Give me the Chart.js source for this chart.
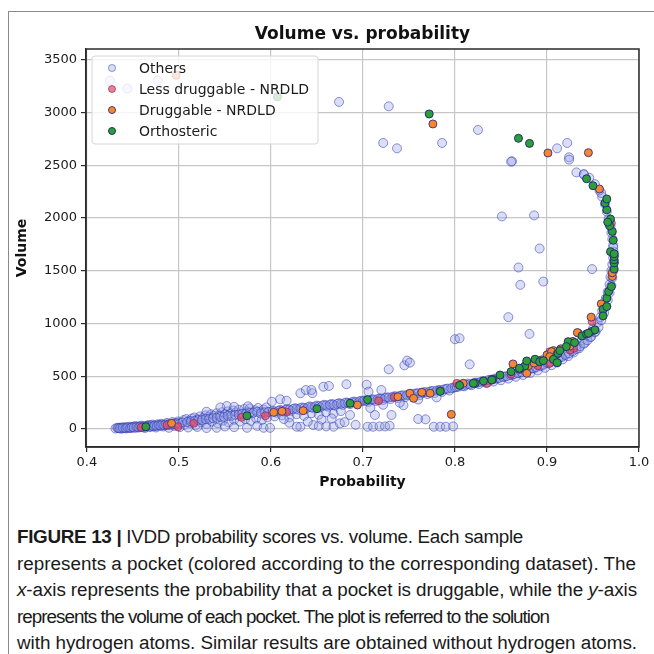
<!DOCTYPE html>
<html>
<head>
<meta charset="utf-8">
<script src="https://cdn.jsdelivr.net/npm/chart.js@4.4.0/dist/chart.umd.min.js"></script>
<style>
  body { margin: 0; background: #fff; width: 654px; height: 654px; overflow: hidden; position: relative; }
  #frame { position: absolute; left: 8px; top: 11px; width: 700px; height: 700px; border: 1px solid #8a8a8a; }
  #wrap { position: absolute; left: 0; top: 0; width: 654px; height: 500px; }
  #caption { position: absolute; left: 17px; top: 524px; font-family: "Liberation Sans", Arial, sans-serif; font-size: 18px; color: #1a1a1a; }
  .line { white-space: nowrap; height: 26.5px; line-height: 26.5px; }
  .line span.t { display: inline-block; transform-origin: 0 50%; }
</style>
</head>
<body>
<div id="frame"></div>
<div id="wrap"><canvas id="chart" width="654" height="500"></canvas></div>
<div id="caption">
  <div class="line"><span class="t"><b>FIGURE 13 |</b> IVDD probability scores vs. volume. Each sample</span></div>
  <div class="line"><span class="t">represents a pocket (colored according to the corresponding dataset). The</span></div>
  <div class="line"><span class="t"><i>x</i>-axis represents the probability that a pocket is druggable, while the <i>y</i>-axis</span></div>
  <div class="line"><span class="t">represents the volume of each pocket. The plot is referred to the solution</span></div>
  <div class="line"><span class="t">with hydrogen atoms. Similar results are obtained without hydrogen atoms.</span></div>
</div>
<script>
// tick labels
const xTicks = [0.4, 0.5, 0.6, 0.7, 0.8, 0.9, 1.0];
const yTicks = [0, 500, 1000, 1500, 2000, 2500, 3000, 3500];

// [probability, volume]
const others = [
  [0.431,5],[0.433,12],[0.435,8],[0.437,15],[0.438,4],[0.440,10],[0.441,18],[0.443,6],[0.445,14],[0.446,22],
  [0.448,9],[0.450,20],[0.452,28],[0.453,12],[0.455,25],[0.457,17],[0.459,32],[0.461,22],[0.463,10],[0.465,30],
  [0.467,38],[0.469,20],[0.471,42],[0.473,28],[0.475,15],[0.477,45],[0.479,34],[0.481,50],[0.483,24],[0.485,40],
  [0.487,58],[0.489,12],[0.491,46],[0.493,66],[0.495,30],[0.497,54],[0.499,72],[0.501,18],[0.503,60],
  [0.434,10],[0.436,6],[0.439,13],[0.442,8],[0.444,17],[0.447,11],[0.449,19],[0.451,14],[0.454,21],[0.456,15],
  [0.458,25],[0.460,18],[0.462,27],[0.464,21],[0.466,29],[0.468,23],[0.470,33],[0.472,26],[0.474,35],[0.476,29],
  [0.478,39],[0.480,31],[0.482,41],[0.484,36],[0.486,45],[0.488,37],[0.490,49],[0.492,41],[0.494,53],[0.496,45],
  [0.498,57],[0.500,49],
  [0.505,85],[0.508,95],[0.511,78],[0.514,100],[0.517,110],[0.520,92],[0.523,120],[0.526,105],[0.529,130],[0.532,115],
  [0.535,140],[0.538,125],[0.541,150],[0.544,132],[0.547,160],[0.550,142],[0.553,168],[0.556,150],[0.559,175],[0.562,158],
  [0.565,182],[0.568,140],[0.571,190],[0.574,165],[0.577,195],[0.580,150],[0.583,178],[0.586,200],[0.589,165],[0.592,185],
  [0.595,205],[0.598,160],[0.530,164],[0.552,218],[0.545,205],[0.560,210],[0.575,215],
  [0.506,40],[0.512,55],[0.518,35],[0.524,62],[0.530,48],[0.536,70],[0.542,55],[0.548,80],[0.554,62],[0.560,88],
  [0.566,70],[0.572,95],[0.578,78],[0.584,100],[0.590,85],[0.596,110],
  [0.510,15],[0.520,20],[0.530,10],[0.541,12],[0.550,25],[0.560,18],[0.574,12],[0.585,30],[0.592,12],[0.599,12],
  [0.504,63],[0.509,66],[0.513,74],[0.517,77],[0.521,84],[0.525,86],[0.529,95],[0.533,97],[0.537,104],[0.541,106],
  [0.545,115],[0.549,116],[0.553,125],[0.557,126],[0.561,135],[0.565,136],[0.569,145],[0.573,146],[0.577,155],[0.581,156],
  [0.585,163],[0.589,148],[0.593,158],[0.597,164],
  [0.602,170],[0.606,155],[0.610,180],[0.614,165],[0.618,190],[0.622,172],[0.626,198],[0.630,182],[0.634,205],[0.638,190],
  [0.642,215],[0.646,198],[0.650,222],[0.654,205],[0.658,230],[0.662,212],[0.666,238],[0.670,220],[0.674,246],[0.678,228],
  [0.682,252],[0.686,236],[0.690,260],[0.694,244],[0.698,268],
  [0.604,120],[0.612,130],[0.620,110],[0.628,140],[0.636,125],[0.644,150],[0.652,135],[0.660,160],[0.668,145],[0.676,170],
  [0.601,259],[0.610,282],[0.617,268],[0.632,339],[0.638,370],[0.645,340],[0.657,401],[0.663,408],[0.644,370],[0.682,424],
  [0.704,420],[0.706,354],
  [0.632,22],[0.628,22],[0.646,38],[0.652,30],[0.660,25],[0.668,22],[0.675,54],[0.686,133],[0.640,70],[0.655,90],
  [0.666,100],[0.680,65],[0.692,40],[0.620,60],[0.614,95],
  [0.604,167],[0.608,174],[0.612,175],[0.616,182],[0.620,183],[0.624,190],[0.628,191],[0.632,198],[0.636,199],[0.640,206],
  [0.644,207],[0.648,214],[0.652,215],[0.656,222],[0.660,223],[0.664,230],[0.668,231],[0.672,238],[0.676,239],[0.680,246],
  [0.684,247],[0.688,254],[0.692,255],[0.696,262],[0.700,263],
  [0.702,272],[0.706,258],[0.710,282],[0.714,266],[0.718,290],[0.722,275],[0.726,300],[0.730,284],[0.734,310],[0.738,294],
  [0.742,318],[0.746,302],[0.750,328],[0.754,312],[0.758,338],[0.762,322],[0.766,348],[0.770,332],[0.774,358],[0.778,342],
  [0.782,368],[0.786,352],[0.790,380],[0.794,365],[0.798,392],
  [0.704,269],[0.708,273],[0.712,279],[0.716,283],[0.720,289],[0.724,293],[0.728,299],[0.732,303],[0.736,309],[0.740,313],
  [0.744,319],[0.748,323],[0.752,329],[0.756,333],[0.760,339],[0.764,343],[0.768,349],[0.772,353],[0.776,361],[0.780,363],
  [0.784,371],[0.788,375],[0.792,383],[0.796,387],[0.800,395],
  [0.728,566],[0.745,604],[0.748,648],[0.751,629],[0.720,370],[0.713,133],[0.731,133],[0.744,225],[0.760,95],[0.768,92],
  [0.705,22],[0.711,22],[0.718,25],[0.724,25],[0.729,31],[0.777,22],[0.784,22],[0.790,22],[0.798,25],[0.708,200],
  [0.722,230],[0.740,250],[0.760,280],[0.780,300],
  [0.802,398],[0.806,420],[0.810,405],[0.814,430],[0.818,415],[0.822,440],[0.826,425],[0.830,452],[0.834,436],[0.838,465],
  [0.842,450],[0.846,478],[0.850,462],[0.854,495],[0.858,478],[0.862,512],[0.866,495],[0.870,530],[0.874,512],[0.878,552],
  [0.882,532],[0.886,575],[0.890,555],[0.894,600],[0.898,580],
  [0.804,403],[0.808,409],[0.812,419],[0.816,423],[0.820,433],[0.824,439],[0.828,447],[0.832,453],[0.836,463],[0.840,469],
  [0.844,479],[0.848,485],[0.852,495],[0.856,501],[0.860,513],[0.864,519],[0.868,531],[0.872,539],[0.876,551],[0.880,561],
  [0.884,575],[0.888,585],[0.892,599],[0.896,609],[0.900,625],
  [0.800,851],[0.805,860],[0.816,613],[0.881,901],[0.862,2536],[0.851,2014],[0.886,2024],[0.892,1710],[0.869,1530],[0.871,1366],
  [0.896,1397],[0.858,1060],[0.825,2833],[0.861,2533],
  [0.902,625],[0.905,605],[0.908,650],[0.911,630],[0.914,680],[0.917,660],[0.920,710],[0.923,690],[0.926,745],[0.929,725],
  [0.932,790],[0.935,765],[0.938,840],[0.941,815],[0.944,890],[0.947,870],[0.950,950],[0.953,925],[0.955,1010],[0.958,1060],
  [0.960,1120],[0.962,1180],[0.964,1240],[0.966,1300],[0.968,1370],[0.969,1440],[0.970,1500],[0.971,1560],[0.972,1620],[0.9725,1680],
  [0.972,1740],[0.971,1800],[0.970,1860],[0.969,1920],[0.967,1990],[0.965,2060],[0.963,2130],[0.960,2200],[0.957,2260],[0.952,2320],
  [0.946,2380],[0.940,2409],[0.932,2431],[0.940,2416],
  [0.904,639],[0.908,651],[0.912,669],[0.916,683],[0.920,701],[0.924,717],[0.928,739],[0.932,759],[0.936,785],[0.940,809],
  [0.944,841],[0.948,874],[0.952,916],[0.956,964],[0.959,1031],[0.962,1099],[0.964,1161],[0.966,1219],[0.968,1291],[0.970,1359],
  [0.971,1431],[0.972,1499],[0.973,1581],[0.973,1649],[0.972,1721],
  [0.911,2659],[0.922,2710],[0.924,2574],[0.924,2552],[0.949,1515],[0.959,2236],
  [0.728,3057],[0.722,2710],[0.737,2659],[0.786,2710],[0.674,3099],[0.425,3301],[0.444,3225],[0.477,3301]
];

const lessDruggable = [
  [0.459,16],[0.487,38],[0.499,22],[0.516,54],[0.568,111],[0.594,126],[0.617,161],[0.717,268],[0.734,301],[0.784,363],
  [0.802,433],[0.835,433],[0.903,623],[0.903,733],[0.929,765],[0.925,749],[0.949,1018],[0.970,1951],[0.861,520],[0.890,600]
];

const druggable = [
  [0.492,54],[0.497,3351],[0.603,158],[0.612,168],[0.635,174],[0.694,228],[0.738,306],[0.751,339],[0.755,291],[0.764,348],
  [0.773,339],[0.796,139],[0.809,433],[0.776,2890],[0.878,528],[0.863,617],[0.894,655],[0.900,702],[0.907,743],[0.905,733],
  [0.925,787],[0.934,908],[0.933,914],[0.948,1060],[0.959,1186],[0.971,1445],[0.971,1480],[0.957,2274],[0.901,2615],[0.945,2618],
  [0.880,600],[0.886,625],[0.915,760],[0.928,830],[0.903,686],[0.911,711]
];

const orthosteric = [
  [0.464,22],[0.574,126],[0.650,193],[0.686,244],[0.705,278],[0.784,357],[0.805,414],[0.822,433],[0.831,455],[0.841,471],
  [0.849,512],[0.861,544],[0.870,566],[0.876,598],[0.887,661],[0.892,638],[0.896,648],[0.907,661],[0.912,718],[0.911,629],
  [0.923,828],[0.921,781],[0.930,819],[0.938,882],[0.943,901],[0.948,923],[0.952,939],[0.961,1135],[0.961,1072],[0.965,1240],
  [0.965,1160],[0.967,1302],[0.970,1350],[0.973,1515],[0.973,1574],[0.973,1603],[0.973,1634],[0.972,1788],[0.971,1872],[0.968,1926],
  [0.969,1989],[0.965,2077],[0.963,2141],[0.965,2179],[0.950,2305],[0.943,2371],[0.772,2985],[0.869,2754],[0.881,2706],[0.607,3147],
  [0.820,433],[0.840,465],[0.870,576],[0.878,645],[0.914,743],[0.945,908],[0.969,1680],[0.973,1660],[0.966,1960]
];

const toPts = arr => arr.map(([x, y]) => ({ x, y }));

// title, full box, legend inside the axes
const decor = {
  id: 'decor',
  afterDatasetsDraw(chart) {
    const { ctx, chartArea: a } = chart;
    ctx.save();
    ctx.strokeStyle = '#2b2b2b';
    ctx.lineWidth = 1.5;
    ctx.strokeRect(a.left, a.top, a.right - a.left, a.bottom - a.top);

    ctx.fillStyle = '#111';
    ctx.font = 'bold 17px "DejaVu Sans"';
    ctx.textAlign = 'center';
    ctx.textBaseline = 'middle';
    ctx.fillText('Volume vs. probability', (a.left + a.right) / 2, 35);

    const lx = a.left + 6, ly = a.top + 7, lw = 226, lh = 88;
    ctx.beginPath();
    ctx.roundRect(lx, ly, lw, lh, 3);
    ctx.fillStyle = 'rgba(255,255,255,0.8)';
    ctx.fill();
    ctx.strokeStyle = '#d6d6d6';
    ctx.lineWidth = 1;
    ctx.stroke();

    ctx.font = '14px "DejaVu Sans"';
    ctx.textAlign = 'left';
    chart.data.datasets.forEach((ds, i) => {
      const y = ly + 12 + i * 21;
      ctx.beginPath();
      ctx.arc(lx + 20, y, 3.5, 0, Math.PI * 2);
      ctx.fillStyle = ds.backgroundColor;
      ctx.fill();
      ctx.strokeStyle = ds.borderColor;
      ctx.lineWidth = 1;
      ctx.stroke();
      ctx.fillStyle = '#1a1a1a';
      ctx.fillText(ds.label, lx + 47, y + 1);
    });
    ctx.restore();
  }
};

const ctx = document.getElementById('chart');
new Chart(ctx, {
  type: 'scatter',
  data: {
    datasets: [
      { label: 'Others', data: toPts(others), backgroundColor: 'rgba(150,162,228,0.35)',
        borderColor: 'rgba(40,45,175,0.5)', borderWidth: 1, pointRadius: 4.5, order: 3 },
      { label: 'Less druggable - NRDLD', data: toPts(lessDruggable), backgroundColor: 'rgba(236,72,92,0.7)',
        borderColor: 'rgba(110,35,100,0.6)', borderWidth: 1, pointRadius: 4, order: 2 },
      { label: 'Druggable - NRDLD', data: toPts(druggable), backgroundColor: '#f7862c',
        borderColor: '#4a3a7a', borderWidth: 1, pointRadius: 4, order: 1 },
      { label: 'Orthosteric', data: toPts(orthosteric), backgroundColor: '#2e9e3b',
        borderColor: '#22306b', borderWidth: 1, pointRadius: 4, order: 0 }
    ]
  },
  options: {
    responsive: false,
    animation: false,
    events: [],
    layout: { padding: { left: 0, right: 15, top: 49, bottom: 0 } },
    plugins: { legend: { display: false }, tooltip: { enabled: false } },
    scales: {
      x: {
        type: 'linear', min: 0.399, max: 1.0,
        afterBuildTicks: s => { s.ticks = xTicks.map(v => ({ value: v })); },
        afterFit: s => { s.height = 53; },
        grid: { color: '#c6c6c6', lineWidth: 1.2, tickLength: 5, tickColor: '#2b2b2b' },
        border: { color: '#2b2b2b', width: 1.5 },
        ticks: { font: { family: 'DejaVu Sans', size: 13 }, color: '#1a1a1a', padding: 3, maxRotation: 0,
                 callback: v => v.toFixed(1) },
        title: { display: true, text: 'Probability', color: '#111',
                 font: { family: 'DejaVu Sans', size: 14, weight: 'bold' }, padding: { top: 0, bottom: 9 } }
      },
      y: {
        min: -170, max: 3600,
        afterBuildTicks: s => { s.ticks = yTicks.map(v => ({ value: v })); },
        afterFit: s => { s.width = 86; },
        grid: { color: '#c6c6c6', lineWidth: 1.2, tickLength: 5, tickColor: '#2b2b2b' },
        border: { color: '#2b2b2b', width: 1.5 },
        ticks: { font: { family: 'DejaVu Sans', size: 13 }, color: '#1a1a1a', padding: 4,
                 callback: v => String(v) },
        title: { display: true, text: 'Volume', color: '#111',
                 font: { family: 'DejaVu Sans', size: 14, weight: 'bold' }, padding: { top: 14, bottom: 0 } }
      }
    }
  },
  plugins: [decor]
});

// caption: one common horizontal squeeze, then letter spacing per line to hit the widths in the figure
const lineWidths = [506, 619, 620, 532, 620];
const spans = [...document.querySelectorAll('#caption .t')];
const natural = spans.map(el => el.getBoundingClientRect().width);
const squeeze = lineWidths[1] / natural[1];
spans.forEach((el, i) => {
  const chars = el.textContent.length;
  const extra = lineWidths[i] / squeeze - natural[i];
  el.style.letterSpacing = (extra / chars) + 'px';
  el.style.transform = 'scaleX(' + squeeze + ')';
});
</script>
</body>
</html>
